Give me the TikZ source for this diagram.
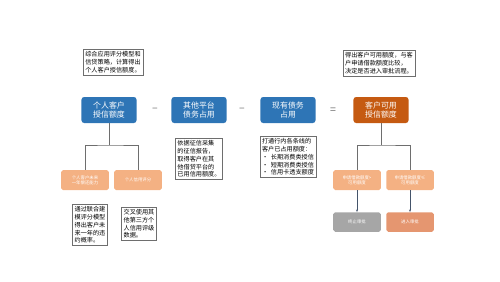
\documentclass[tikz,border=0pt]{standalone}
\usepackage{fontspec}
\setmainfont{Noto Sans CJK SC}
\usepackage{xcolor}
\definecolor{crblue}{RGB}{46,117,182}
\definecolor{crorange}{RGB}{197,90,17}
\definecolor{crlight}{RGB}{244,177,131}
\definecolor{crgray}{RGB}{166,166,166}
\definecolor{crsalmon}{RGB}{229,150,112}
\definecolor{crline}{RGB}{110,110,110}
\definecolor{crarrow}{RGB}{68,84,106}
\usetikzlibrary{arrows.meta,positioning}
\tikzset{
  mainblk/.style={rounded corners=3pt, text=white, align=center,
    minimum width=2.2cm, minimum height=1.04cm, inner sep=1pt,
    font=\fontsize{9}{10.5}\selectfont},
  subblk/.style={rounded corners=2pt, text=white, align=center, fill=crlight,
    minimum width=1.9cm, minimum height=0.8cm, inner sep=1pt,
    font=\fontsize{5}{6}\selectfont},
  notebox/.style={draw=crline, line width=0.6pt, align=left, inner sep=2.5pt,
    font=\fontsize{7}{8.8}\selectfont},
  opsign/.style={text=crline, font=\fontsize{12}{12}\selectfont},
  tree/.style={crline, line width=0.5pt},
}
\begin{document}
\begin{tikzpicture}[x=0.04cm, y=-0.04cm]
  \useasboundingbox (0,0) rectangle (500,281);

  % Top row: formula
  \node[mainblk, fill=crblue] (credit) at (109,110) {个人客户\\授信额度};
  \node[opsign] (minusa) at (155,110) {–};
  \node[mainblk, fill=crblue] (other) at (199,110) {其他平台\\债务占用};
  \node[opsign] (minusb) at (242,110) {–};
  \node[mainblk, fill=crblue] (exist) at (288,110) {现有债务\\占用};
  \node[opsign] (equal) at (333,111) {=};
  \node[mainblk, fill=crorange] (avail) at (381,110) {客户可用\\授信额度};

  % Notes above
  \node[notebox] (notecredit) at (113,62)
    {综合应用评分模型和\\信贷策略，计算得出\\个人客户授信额度。};
  \node[notebox] (noteavail) at (379,63)
    {得出客户可用额度，与客\\户申请借款额度比较，\\决定是否进入审批流程。};

  % Notes below the middle blocks
  \node[notebox] (noteother) at (199,159)
    {依据征信采集\\的征信报告，\\取得客户在其\\他借贷平台的\\已用信用额度。};
  \node[notebox] (noteexist) at (288,157)
    {打通行内各条线的\\客户已占用额度：\\•\ \ 长期消费类授信\\•\ \ 短期消费类授信\\•\ \ 信用卡透支额度};

  % Left branch
  \node[subblk] (repay) at (85,180) {个人客户未来\\一年偿还能力};
  \node[subblk] (score) at (138,180) {个人信用评分};
  \node[notebox] (noterepay) at (90,225)
    {通过联合建\\模评分模型\\得出客户未\\来一年的违\\约概率。};
  \node[notebox] (notescore) at (139,224)
    {交叉使用其\\他第三方个\\人信用评级\\数据。};

  % Right branch
  \node[subblk] (over) at (357,180) {申请借款额度>\\可用额度};
  \node[subblk] (under) at (410,180) {申请借款额度≤\\可用额度};
  \node[subblk, fill=crgray, minimum height=0.78cm] (stop) at (357,222) {终止审批};
  \node[subblk, fill=crsalmon, minimum height=0.78cm] (enter) at (410,222) {进入审批};

  % Connectors
  \coordinate (forkl) at (109,145);
  \coordinate (forkr) at (381,145);
  \draw[tree] (credit.south) -- (forkl);
  \draw[tree] (repay.north) |- (forkl) -| (score.north);
  \draw[tree] (avail.south) -- (forkr);
  \draw[tree] (over.north) |- (forkr) -| (under.north);
  \draw[crarrow, line width=0.8pt, -{Stealth[length=3pt]}] (over) -- (stop);
  \draw[crarrow, line width=0.8pt, -{Stealth[length=3pt]}] (under) -- (enter);
\end{tikzpicture}
\end{document}
